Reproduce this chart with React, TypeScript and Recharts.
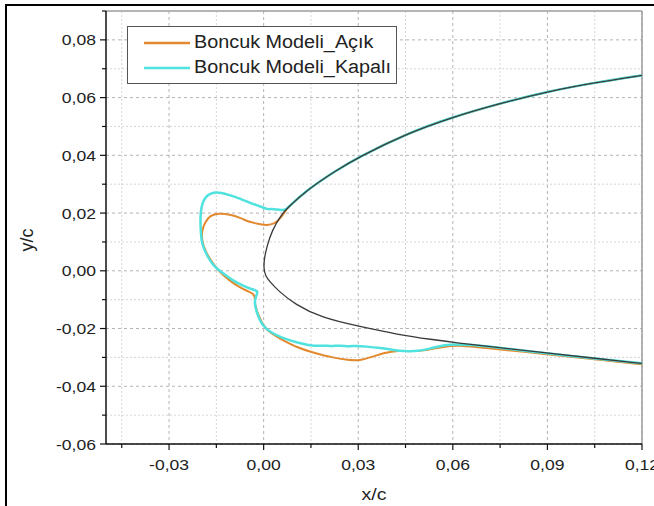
import { LineChart, Line, XAxis, YAxis, CartesianGrid, Legend, ReferenceLine } from 'recharts';

// axis ticks
const xTicks = [-0.045, -0.03, -0.015, 0, 0.015, 0.03, 0.045, 0.06, 0.075, 0.09, 0.105, 0.12];
const xMajor = [-0.03, 0, 0.03, 0.06, 0.09, 0.12];
const xMinor = [-0.045, -0.015, 0.015, 0.045, 0.075, 0.105];
const yTicks = [-0.06, -0.05, -0.04, -0.03, -0.02, -0.01, 0, 0.01, 0.02, 0.03, 0.04, 0.05, 0.06, 0.07, 0.08, 0.09];
const yMajor = [-0.06, -0.04, -0.02, 0, 0.02, 0.04, 0.06, 0.08];
const yMinor = [-0.05, -0.03, -0.01, 0.01, 0.03, 0.05, 0.07];

// clean airfoil, upper surface (trailing side -> nose)
const upperSurface: [number, number][] = [
  [0.12, 0.0677], [0.105, 0.0652], [0.09, 0.0621], [0.075, 0.058], [0.06, 0.0533],
  [0.045, 0.0474], [0.03, 0.0393], [0.0232, 0.0349], [0.0137, 0.028], [0.0073, 0.0215],
];
// clean airfoil, nose region down to the lower surface
const airfoilNose: [number, number][] = [
  [0.0057, 0.0196], [0.0026, 0.0139], [0.001, 0.0083], [0.0002, 0.0043], [0.0, 0.0008],
  [0.0006, -0.0018], [0.0019, -0.0037], [0.0047, -0.007], [0.0099, -0.0116], [0.0184, -0.0163],
  [0.03, -0.0192], [0.0427, -0.0221], [0.0532, -0.0238], [0.0617, -0.025], [0.069, -0.0259],
  [0.09, -0.0285], [0.105, -0.0303], [0.12, -0.0321],
];
// ice shape, Boncuk Modeli_Açık
const iceOpen: [number, number][] = [
  [0.0068, 0.0205], [0.0052, 0.018], [0.0036, 0.0163], [0.001, 0.0157], [-0.0017, 0.0163],
  [-0.0043, 0.0168], [-0.0075, 0.0184], [-0.0107, 0.0195], [-0.0143, 0.02], [-0.017, 0.0192],
  [-0.0186, 0.0168], [-0.0196, 0.0139], [-0.0196, 0.0105], [-0.0186, 0.007], [-0.0164, 0.0029],
  [-0.0138, -0.0006], [-0.0107, -0.0035], [-0.0075, -0.0058], [-0.0048, -0.0072], [-0.0032, -0.0079],
  [-0.0027, -0.0093], [-0.0029, -0.0116], [-0.0012, -0.0168], [0.001, -0.0209], [0.0057, -0.0238],
  [0.011, -0.0268], [0.0163, -0.0285], [0.0215, -0.03], [0.0268, -0.0309], [0.0305, -0.0311],
  [0.0342, -0.0299], [0.0384, -0.0283], [0.0427, -0.0276], [0.0469, -0.0279], [0.0511, -0.0277],
  [0.0574, -0.0262], [0.0617, -0.0258], [0.069, -0.0266], [0.09, -0.0289], [0.105, -0.0306], [0.12, -0.0324],
];
// ice shape, Boncuk Modeli_Kapalı
const iceClosed: [number, number][] = [
  [0.0073, 0.0215], [0.0063, 0.0209], [0.0041, 0.0212], [0.0026, 0.0215], [0.0015, 0.0212],
  [-0.0001, 0.0219], [-0.0022, 0.0227], [-0.0048, 0.0238], [-0.0075, 0.025], [-0.0107, 0.0262],
  [-0.0133, 0.027], [-0.0159, 0.0273], [-0.018, 0.0262], [-0.0194, 0.0238], [-0.0199, 0.0209],
  [-0.0201, 0.0174], [-0.0199, 0.0128], [-0.0196, 0.0093], [-0.018, 0.0052], [-0.0159, 0.0017],
  [-0.0133, -0.0006], [-0.0096, -0.0035], [-0.0064, -0.0052], [-0.0038, -0.0064], [-0.0017, -0.007],
  [-0.0022, -0.0081], [-0.0027, -0.0099], [-0.0029, -0.0116], [-0.0017, -0.0163], [0.0004, -0.0203],
  [0.0057, -0.0233], [0.011, -0.025], [0.0163, -0.0262], [0.019, -0.0258], [0.0215, -0.0262],
  [0.024, -0.0258], [0.0268, -0.0262], [0.0295, -0.026], [0.0321, -0.0262], [0.0374, -0.0268],
  [0.0405, -0.0273], [0.0447, -0.0279], [0.049, -0.0279], [0.0532, -0.0268], [0.0574, -0.0256],
  [0.0617, -0.0254], [0.069, -0.0258], [0.09, -0.0287], [0.105, -0.0304], [0.12, -0.032],
];

const toPts = (arr: [number, number][]) => arr.map(([x, y]) => ({ x, y }));
const airfoilData = toPts([...upperSurface, ...airfoilNose]);
const openData = toPts([...upperSurface, ...iceOpen]);
const closedData = toPts([...upperSurface, ...iceClosed]);

const ORANGE = '#E2892F';
const CYAN = '#4FE2DE';
const FONT = '"Liberation Sans", Arial, sans-serif';

const isIn = (list: number[], v: number) => list.some((m) => Math.abs(m - v) < 1e-9);
const fmt = (v: number) => (Math.abs(v) < 1e-9 ? 0 : v).toFixed(2).replace('.', ',');

const XTick = ({ x, y, payload }: any) => {
  const major = isIn(xMajor, payload.value);
  return (
    <g>
      <line x1={x} x2={x} y1={y} y2={y + (major ? 6 : 4)} stroke="#111" strokeWidth={1.2} />
      {major && (
        <text transform={`translate(${x},${y + 26}) scale(1.17,1)`} textAnchor="middle" fontSize={15} fill="#222" fontFamily={FONT}>
          {fmt(payload.value)}
        </text>
      )}
    </g>
  );
};

const YTick = ({ x, y, payload }: any) => {
  const major = isIn(yMajor, payload.value);
  return (
    <g>
      <line x1={x} x2={x - (major ? 6 : 4)} y1={y} y2={y} stroke="#111" strokeWidth={1.2} />
      {major && (
        <text transform={`translate(${x - 10},${y + 5.5}) scale(1.17,1)`} textAnchor="end" fontSize={15} fill="#222" fontFamily={FONT}>
          {fmt(payload.value)}
        </text>
      )}
    </g>
  );
};

const LegendBox = () => (
  <div style={{ border: '1px solid #555', background: '#fff', width: 270, height: 58, boxSizing: 'border-box', padding: '3px 0 0 16px', fontFamily: FONT }}>
    {[
      { name: 'Boncuk Modeli_Açık', color: ORANGE },
      { name: 'Boncuk Modeli_Kapalı', color: CYAN },
    ].map((e) => (
      <div key={e.name} style={{ display: 'flex', alignItems: 'center', height: 25 }}>
        <svg width={46} height={6}>
          <line x1={0} x2={46} y1={3} y2={3} stroke={e.color} strokeWidth={2.5} />
        </svg>
        <span style={{ fontSize: 18, color: '#222', marginLeft: 4, display: 'inline-block', transform: 'scaleX(1.1)', transformOrigin: 'left center', whiteSpace: 'nowrap' }}>
          {e.name}
        </span>
      </div>
    ))}
  </div>
);

export default function App() {
  return (
    <div style={{ position: 'fixed', left: 0, top: 0, width: 654, height: 506, background: '#fff', overflow: 'hidden' }}>
      <div style={{ position: 'absolute', left: 5, top: 4, width: 660, height: 520, borderTop: '2px solid #000', borderLeft: '2px solid #000' }} />
      <LineChart width={654} height={506} margin={{ top: 11, right: 12, bottom: 0, left: 0 }}>
        <CartesianGrid verticalValues={xMinor} horizontalValues={yMinor} stroke="#d6d6d6" strokeDasharray="2 2" />
        <CartesianGrid verticalValues={xMajor} horizontalValues={yMajor} stroke="#b4b4b4" strokeDasharray="3 3" />
        <XAxis
          type="number"
          dataKey="x"
          domain={[-0.05, 0.12]}
          ticks={xTicks}
          interval={0}
          height={62}
          tickSize={0}
          tickMargin={0}
          tickLine={false}
          tick={XTick}
          axisLine={{ stroke: '#111', strokeWidth: 1.5 }}
          allowDataOverflow
          label={() => (
            <text transform="translate(374,500) scale(1.15,1)" textAnchor="middle" fontSize={17} fill="#222" fontFamily={FONT}>
              x/c
            </text>
          )}
        />
        <YAxis
          type="number"
          dataKey="y"
          domain={[-0.06, 0.09]}
          ticks={yTicks}
          interval={0}
          width={106}
          tickSize={0}
          tickMargin={0}
          tickLine={false}
          tick={YTick}
          axisLine={{ stroke: '#111', strokeWidth: 1.5 }}
          allowDataOverflow
          label={() => (
            <text transform="translate(33,240) rotate(-90)" textAnchor="middle" fontSize={18} fill="#222" fontFamily={FONT}>
              y/c
            </text>
          )}
        />
        <ReferenceLine y={0.09} stroke="#9c9c9c" strokeWidth={1.5} />
        <ReferenceLine x={0.12} stroke="#9c9c9c" strokeWidth={1.5} />
        <Legend
          layout="vertical"
          align="center"
          verticalAlign="middle"
          content={() => <LegendBox />}
          wrapperStyle={{ left: 127, top: 26, width: 270, height: 58 }}
        />
        <Line data={openData} dataKey="y" name="Boncuk Modeli_Açık" type="basis" stroke={ORANGE} strokeWidth={2} dot={false} activeDot={false} isAnimationActive={false} />
        <Line data={closedData} dataKey="y" name="Boncuk Modeli_Kapalı" type="basis" stroke={CYAN} strokeWidth={2.5} dot={false} activeDot={false} isAnimationActive={false} />
        <Line data={airfoilData} dataKey="y" name="airfoil" legendType="none" type="basis" stroke="#3a3a3a" strokeWidth={1.3} dot={false} activeDot={false} isAnimationActive={false} />
      </LineChart>
    </div>
  );
}
